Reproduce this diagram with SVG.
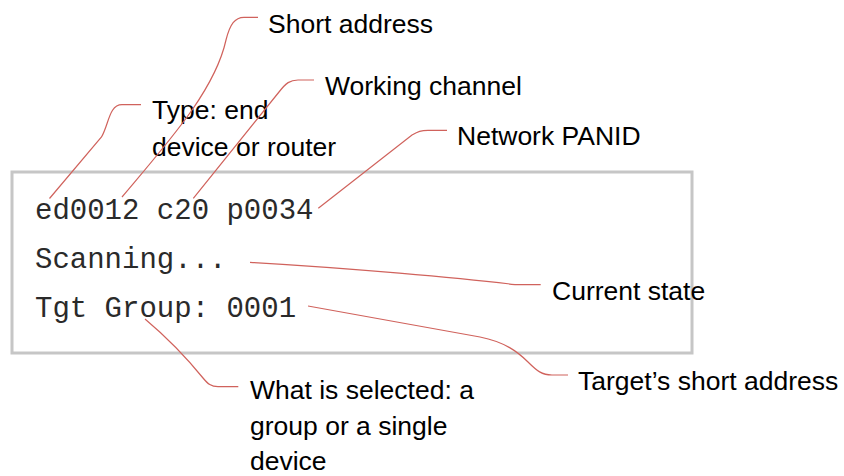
<svg xmlns="http://www.w3.org/2000/svg" width="844" height="476" viewBox="0 0 844 476">
  <style>
    .label { font-family: "Liberation Sans", Arial, sans-serif; font-size: 26.5px; fill: #000; }
    .mono { font-family: "Liberation Mono", "Courier New", monospace; font-size: 29px; fill: #2a2a2a; }
    .lead { fill: none; stroke: #d0625c; stroke-width: 1.2; }
  </style>
  <rect width="844" height="476" fill="#fff"/>

  <!-- display panel -->
  <g id="display">
    <rect x="12" y="172" width="680" height="181" fill="#fff" stroke="#c6c6c6" stroke-width="3"/>
    <text class="mono" x="35" y="219" xml:space="preserve">ed0012 c20 p0034</text>
    <text class="mono" x="35" y="268" xml:space="preserve">Scanning...</text>
    <text class="mono" x="35" y="317" xml:space="preserve">Tgt Group: 0001</text>
  </g>

  <!-- callout labels -->
  <g id="label-short-address">
    <text class="label" x="268" y="33">Short address</text>
  </g>
  <g id="label-working-channel">
    <text class="label" x="325" y="95">Working channel</text>
  </g>
  <g id="label-type">
    <text class="label" x="152" y="119">Type: end</text>
    <text class="label" x="152" y="156">device or router</text>
  </g>
  <g id="label-panid">
    <text class="label" x="457" y="145">Network PANID</text>
  </g>
  <g id="label-current-state">
    <text class="label" x="552" y="300">Current state</text>
  </g>
  <g id="label-target">
    <text class="label" x="578" y="390">Target’s short address</text>
  </g>
  <g id="label-selection">
    <text class="label" x="250" y="399">What is selected: a</text>
    <text class="label" x="250" y="435">group or a single</text>
    <text class="label" x="250" y="470">device</text>
  </g>

  <!-- leader lines, drawn over the panel border -->
  <g id="connectors">
    <path class="lead" d="M49.5,198.5 L101.5,137 C109,124 109,104.7 122,104.7 L141,104.7"/>
    <path class="lead" d="M122,197 C170,140 215,90 226,40 C230,24 235,17.3 244,17.3 L258,17.3"/>
    <path class="lead" d="M193.3,198.3 L279,92 C286,83 290,80 298,80 L314,80"/>
    <path class="lead" d="M318.3,208.3 L412,135 C418,131.5 421,130.3 428,130.3 L447,130.3"/>
    <path class="lead" d="M250,262.3 C350,268 460,278 515,284.6 L540.7,284.6"/>
    <path class="lead" d="M308,306 L480,337 C505,342 518,352 528,362 C537,371 542,375 552,375 L568,375"/>
    <path class="lead" d="M145,319 C170,340 190,362 203,378 C208,384 211,386.7 218,386.7 L238.3,386.7"/>
  </g>
</svg>
